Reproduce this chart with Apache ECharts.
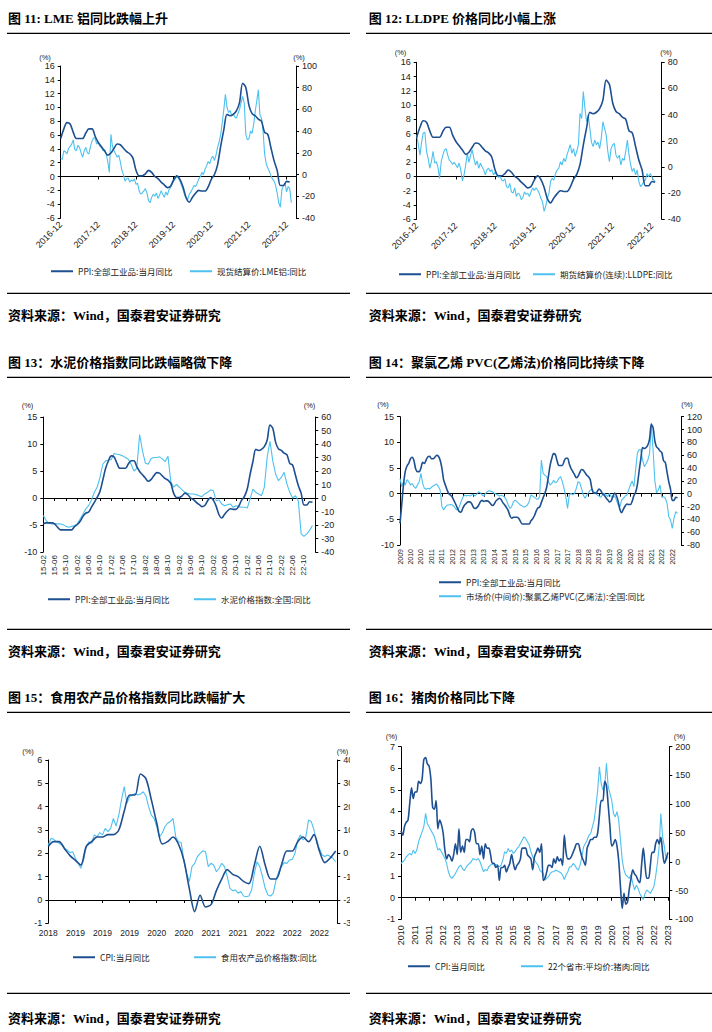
<!DOCTYPE html>
<html><head><meta charset="utf-8">
<script src="https://cdn.jsdelivr.net/npm/echarts@6/dist/echarts.min.js"></script>
<style>html,body{margin:0;padding:0;background:#fff}#c{width:712px;height:1032px}</style>
</head><body><div id="c"></div>
<script>
// ---------- DATA ----------
// PPI 全部工业品 当月同比, monthly 2009-10 .. 2023-01
const ppiMonthly = [-5.8,-2.1,1.7,
4.3,5.4,5.9,6.8,7.1,6.4,4.8,4.3,4.3,5.0,6.1,5.9,
6.6,7.2,7.3,6.8,6.8,7.1,7.5,7.3,6.5,5.0,2.7,1.7,
0.7,0.0,-0.3,-0.7,-1.4,-2.1,-2.9,-3.5,-3.6,-2.8,-2.2,-1.9,
-1.6,-1.6,-1.9,-2.6,-2.9,-2.7,-2.3,-1.6,-1.3,-1.5,-1.4,-1.4,
-1.6,-2.0,-2.3,-2.0,-1.4,-1.1,-0.9,-1.2,-1.8,-2.2,-2.7,-3.3,
-4.3,-4.8,-4.6,-4.6,-4.6,-4.8,-5.4,-5.9,-5.9,-5.9,-5.9,-5.9,
-5.3,-4.9,-4.3,-3.4,-2.8,-2.6,-1.7,-0.8,0.1,1.2,3.3,5.5,
6.9,7.8,7.6,6.4,5.5,5.5,5.5,6.3,6.9,6.9,5.8,4.9,
4.3,3.7,3.1,3.4,4.1,4.7,4.6,4.1,3.6,3.3,2.7,0.9,
0.1,0.1,0.4,0.9,0.6,0.0,-0.3,-0.8,-1.2,-1.6,-1.4,-0.5,
0.1,-0.4,-1.5,-3.1,-3.7,-3.0,-2.4,-2.0,-2.1,-2.1,-1.5,-0.4,
0.3,1.7,4.4,6.8,9.0,8.8,9.0,9.5,10.7,13.5,12.9,10.3,
9.1,8.8,8.3,8.0,6.4,6.1,4.2,2.3,0.9,-1.3,-1.3,-0.7,
-0.8];
// CPI 当月同比, monthly 2010-05 .. 2023-01
const cpiMonthly = [3.1,2.9,3.3,3.5,3.6,4.4,5.1,4.6,
4.9,4.9,5.4,5.3,5.5,6.4,6.5,6.2,6.1,5.5,4.2,4.1,
4.5,3.2,3.6,3.4,3.0,2.2,1.8,2.0,1.9,1.7,2.0,2.5,
2.0,3.2,2.1,2.4,2.1,2.7,2.7,2.6,3.1,3.2,3.0,2.5,
2.5,2.0,2.4,1.8,2.5,2.3,2.3,2.0,1.6,1.6,1.4,1.5,
0.8,1.4,1.4,1.5,1.2,1.4,1.6,2.0,1.6,1.3,1.5,1.6,
1.8,2.3,2.3,2.3,2.0,1.9,1.8,1.3,1.9,2.1,2.3,2.1,
2.5,0.8,0.9,1.2,1.5,1.5,1.4,1.8,1.6,1.9,1.7,1.8,
1.5,2.9,2.1,1.8,1.8,1.9,2.1,2.3,2.5,2.5,2.2,1.9,
1.7,1.5,2.3,2.5,2.7,2.7,2.8,2.8,3.0,3.8,4.5,4.5,
5.4,5.2,4.3,3.3,2.4,2.5,2.7,2.4,1.7,0.5,-0.5,0.2,
-0.3,-0.2,0.4,0.9,1.3,1.1,1.0,0.8,0.7,1.5,2.3,1.5,
0.9,0.9,1.5,2.1,2.1,2.5,2.7,2.5,2.8,2.1,1.6,1.8,
2.1];
// 现货结算价:LME铝:同比, half-monthly from 2016-12
const lmeAluYoY = [15,14,22,21,19,24,26,28,32,23,
22,27,25,20,16,22,25,20,19,26,
31,34,33,28,30,26,25,22,23,19,
12,2,37,26,22,19,16,18,12,4,
0,-6,-4,-3,-7,-5,-6,-4,-9,-8,
-15,-18,-17,-15,-13,-17,-24,-26,-21,-18,
-20,-17,-22,-19,-15,-18,-21,-16,-19,-14,
-12,-9,-6,-4,-2,-3,-6,-10,-14,-19,
-21,-23,-18,-16,-13,-10,-11,-8,-4,-2,
2,0,5,8,12,10,15,17,13,18,
25,30,37,48,60,74,62,57,59,54,
56,53,52,56,60,66,72,66,37,32,
33,40,38,46,58,68,78,55,52,40,
19,10,6,3,-1,-4,-6,-10,-17,-26,
-30,-14,-10,-8,-16,-11,-13,-26];
// 期货结算价(连续):LLDPE:同比, half-monthly from 2016-12
const lldpeYoY = [24.5,17,9,19,26,26.5,12,6.6,-1,4,
12,3,4,0,-8.7,4,9,13,14,9,
5,4,2,3.5,1.5,-0.5,3,-2.3,-10.7,-6,
1.5,10.4,3.5,9,13,6.6,1.5,4.6,-1,3,
0,-2,-6,-2,-1,-3.5,-2,-6,-4,-6.6,
-8,-6.6,-10,-10.7,-9,-15,-16,-12.5,-19,-20,
-16,-22.6,-20,-21,-25,-23.5,-19,-21,-20,-22.6,
-19,-16,-18,-16,-17.6,-20,-24,-26.5,-34,-30,
-24,-20,-11,-8.7,-10,-5,-2.3,-1,4,1.5,
6.6,4,9,13,17,10.4,14,8,12,17,
41,37,57.6,45,34.6,40,29.5,19,15.5,20.6,
17,19,14,22,34.6,29.5,24.5,12,4,14,
17,18,9,6.6,9,1.5,6.6,5,12,20.6,
9,1.5,-3.5,-1,-6,-2.3,-11,-15,-13.7,-11,
-10,-5,-7.4,-5,-7.4,-10,-11];
// 水泥价格指数:全国:同比, monthly from 2015-02
const cementYoY = [-13,-16.7,-18.7,-19.2,-19.2,-19.2,-19.2,-19.7,-21,-21.6,
-21,-20.4,-19.2,-15.5,-11.8,-8,-5.7,-1.5,4.2,7.9,
15.2,25,27.5,28,28.5,33,32.4,32,31.2,30,
28.7,25,20,22,47,35,26,25,29,30,
30,30.5,29,27,31,12,8,10,8,6,
4.2,3.4,3,3,2.5,1.7,1,3,4.2,6,
5.4,-2,-1.5,-4.4,-5.7,-5,-4.4,-6.9,-5.7,-6.4,
-6.9,-6.9,-7.4,-0.7,6.6,4.2,3,1.7,7.9,30,
42,27.5,17.7,12.8,15.2,19,10.3,4.2,0,1.7,
-2,-26.5,-28.5,-26.5,-24,-20.4];
// 市场价(中间价):聚氯乙烯PVC(乙烯法):全国:同比, monthly from 2009-10
const pvcYoY = [24,11,18.7,13.5,22,18.7,13.5,16,11,8.3,
13.5,18.7,31.7,16,8.3,6.8,8.3,7.3,10,12,
13.5,15,11,5.7,-20,-25.5,-21,-17.7,-17.7,-17,
-17.7,-20,-24.4,-25.5,-20,-12.5,-5.7,-2,-3.6,-2.6,
-3.6,-2,-1,-3.6,-0.5,3,1.5,-2,-3.6,0.5,
3,4.7,3.6,3,0.5,-0.5,-2,-3.6,-2.6,-3.6,
-5.7,-10,-17.7,-23,-20,-12.5,-10,-12.5,-15,-17.7,
-19,-21,-20,-17.7,-12.5,-2,-3.6,-5.7,-7.8,-8.8,
-4.7,52.5,31.7,29,26.5,18.7,13.5,16,21,17,
18.7,24,26.5,18.7,8.3,-4.7,-23,-2,0.5,-2,
0.5,8.3,18.7,17,8.3,-2,-7.3,-2,1.5,5.7,
6.8,3,0.5,-2,-3.6,-5.7,-2,0.5,-2,-4.7,
0.5,-4.7,-5.7,-3.6,-10,-17.7,-20,-10,-7.3,-3.6,
-2,5.7,13.5,20,11,37,63,69,68,52.5,
42,47,52.5,63,110,68,21,1.5,5.7,13.5,
-5.7,-4.7,-7.3,-15,-36,-41,-54,-38,-28,-30.6];
// 食用农产品价格指数:同比, half-monthly from 2018-08
const foodYoY = [3.6,6.4,6,5,4.3,3.6,2.1,1.4,0.3,0.7,
-2.1,-4.3,-6.4,-2.9,2.9,5,4.3,7.9,7.1,8.9,
7.9,10.7,9.3,10.7,15,11.7,16.4,22.9,28.6,21.4,
24.3,25,25.7,25,25.4,26.4,24.6,20,16.4,15,
11.4,7.1,8.6,11.4,12.9,13.6,15,7.1,5,4.6,
-2.9,-8.6,-12.1,-5.7,-4.3,-1.4,0,1.1,0.7,-5.7,
-4.3,-5,-7.9,-6.4,-4.3,-5.7,-10,-15,-16,-15.7,
-17.1,-16.4,-18.3,-18.6,-18.3,-15.7,-8.6,-3.6,-5.7,-10,
-15,-17.9,-18.3,-17.1,-11.4,-7.9,-5.7,-4,-4.3,-2.9,
-2.6,0,5.7,7.9,5.7,7.1,14.3,13.6,10,4.3,
2.1,-0.7,-1.4,-0.7,-1.4,-2.1,-3.6];
// 22个省市:平均价:猪肉:同比, monthly from 2010-05
const porkYoY = [-3,0,3,8.7,11.6,14.5,11.6,20.3,14.5,20.3,
34.7,43.4,52,60.8,84,66.6,60.8,55,49,43.4,
31.8,20.3,23,17.4,11.6,5.8,-3,-17.4,-26,-29,
-25,-20.3,-14.5,-8.7,-5.8,-11.6,-15.6,-9.8,-5.8,-3,
0,5.8,4,3,5.8,0,-8.7,-17.4,-13.3,-15.6,
-8.7,-5.8,-4,-5.8,-4.6,-5.8,-8.7,-5.8,3,17.4,
14.5,23,17.4,20.3,14.5,17.4,23,26,31.8,37.6,
43.4,40.5,34.7,29,17.4,8.7,3,-1.7,-5.8,-14.5,
-17.4,-20.3,-31.8,-29,-26,-20.3,-17.4,-17.4,-14.5,-15.6,
-17.4,-19,-23,-30.7,-23,-17.4,-8.7,-8.7,-3,-5.8,
-11.6,-14.5,-5.8,8.7,26,31.8,37.6,46,49,60.8,
72.4,95.5,124.5,165,136,124.5,130,171,130,118.7,
107,84,78,87,72.4,37.6,3,-14.5,-23,-26,
-29,-23,-37.6,-49,-40.5,-46.3,-55,-60.8,-65.4,-55,
-49,-52,-55,-49,-43.4,-26,-3,26,84,43.4,
26,3,8.7];

// tick labels
const p1Ticks = ['2016-12','2017-12','2018-12','2019-12','2020-12','2021-12','2022-12'];
const p3Ticks = ['15-02','15-06','15-10','16-02','16-06','16-10','17-02','17-06','17-10','18-02','18-06','18-10','19-02','19-06','19-10','20-02','20-06','20-10','21-02','21-06','21-10','22-02','22-06','22-10'];
const p4Ticks = ['2009','2010','2010','2011','2011','2012','2012','2013','2013','2014','2014','2015','2015','2016','2016','2017','2017','2018','2018','2019','2019','2020','2020','2021','2021','2022','2022'];
const p5Ticks = ['2018','2019','2019','2019','2020','2020','2021','2021','2022','2022','2022'];
const p6Ticks = ['2010','2011','2011','2012','2013','2013','2014','2015','2015','2016','2017','2017','2018','2019','2019','2020','2021','2021','2022','2023'];

// names / texts
const NAME_PPI = 'PPI:全部工业品:当月同比';
const NAME_CPI = 'CPI:当月同比';
const titles = ['图 11: LME 铝同比跌幅上升','图 12: LLDPE 价格同比小幅上涨','图 13：水泥价格指数同比跌幅略微下降','图 14：聚氯乙烯 PVC(乙烯法)价格同比持续下降','图 15：食用农产品价格指数同比跌幅扩大','图 16：猪肉价格同比下降'];
const SOURCE = '资料来源：Wind，国泰君安证券研究';

// ---------- BUILD ----------
const DARK = '#1d4f91', LIGHT = '#4dc1ef';
const NUMFONT = 'Liberation Sans, Arial, sans-serif';
const CJKFONT = 'Noto Sans CJK SC, sans-serif';
function pairs(arr, x0, step){ return arr.map((v,i)=>[x0+i*step, v]); }

const panels = [
 {grid:{left:60.7,top:66,width:235.3,height:152}, x:{min:0,max:75,interval:12,labels:p1Ticks,rotate:45,fontSize:9,margin:5},
  yl:[-6,16,2], yr:[-40,100,20], dark:{name:NAME_PPI,data:pairs(ppiMonthly.slice(86),0,1)}, light:{name:'现货结算价:LME铝:同比',data:pairs(lmeAluYoY,0,0.5)},
  pct:[[45,57],[299,57]], leg:[[51,273],[190,273]]},
 {grid:{left:416.7,top:62.3,width:245,height:157}, x:{min:0,max:75,interval:12,labels:p1Ticks,rotate:45,fontSize:9,margin:5},
  yl:[-6,16,2], yr:[-40,80,20], dark:{name:NAME_PPI,data:pairs(ppiMonthly.slice(86),0,1)}, light:{name:'期货结算价(连续):LLDPE:同比',data:pairs(lldpeYoY,0,0.5)},
  pct:[[400.5,52],[666,52]], leg:[[399,276],[533,276]]},
 {grid:{left:43.3,top:417,width:272,height:135}, x:{min:0,max:96,interval:4,labels:p3Ticks,rotate:90,fontSize:8,margin:3},
  yl:[-10,15,5], yr:[-40,60,10], dark:{name:NAME_PPI,data:pairs(ppiMonthly.slice(64),0,1)}, light:{name:'水泥价格指数:全国:同比',data:pairs(cementYoY,0,1)},
  pct:[[27.5,405],[309.5,405]], leg:[[48,601],[194,601]]},
 {grid:{left:400,top:416.7,width:281,height:128.3}, x:{min:0,max:161,interval:6,labels:p4Ticks,rotate:90,fontSize:7,margin:4},
  yl:[-10,15,5], yr:[-80,120,20], dark:{name:NAME_PPI,data:pairs(ppiMonthly,0,1)}, light:{name:'市场价(中间价):聚氯乙烯PVC(乙烯法):全国:同比',data:pairs(pvcYoY,0,1)},
  pct:[[383,404.5],[687,404.5]], leg:[[439,584],[439,598]]},
 {grid:{left:48.3,top:760,width:289,height:163.3}, x:{min:0,max:53.3,interval:5,labels:p5Ticks,rotate:0,fontSize:8.5,margin:5},
  yl:[-1,6,1], yr:[-30,40,10], dark:{name:NAME_CPI,data:pairs(cpiMonthly.slice(99),0,1)}, light:{name:'食用农产品价格指数:同比',data:pairs(foodYoY,0,0.5)},
  pct:[[28,751],[342.5,751]], leg:[[73,959],[194,959]]},
 {grid:{left:401,top:746.7,width:268.3,height:172.6}, x:{min:0,max:152.8,interval:8,labels:p6Ticks,rotate:90,fontSize:9,margin:6},
  yl:[-1,7,1], yr:[-100,200,50], dark:{name:NAME_CPI,data:pairs(cpiMonthly,0,1)}, light:{name:'22个省市:平均价:猪肉:同比',data:pairs(porkYoY,0,1)},
  pct:[[391.5,736],[679.5,736]], leg:[[408,968],[521,968]]}
];

const option = {animation:false, grid:[], xAxis:[], yAxis:[], series:[], legend:[], graphic:[]};
const axisLineStyle = {color:'#000', width:1};
panels.forEach((p,i)=>{
  option.grid.push(Object.assign({containLabel:false}, p.grid));
  const yl = option.yAxis.length;
  [['left',p.yl],['right',p.yr]].forEach(([pos,r])=>{
    option.yAxis.push({gridIndex:i, type:'value', position:pos, min:r[0], max:r[1], interval:r[2],
      axisLine:{show:true,onZero:false,lineStyle:axisLineStyle},
      axisTick:{show:true,length:3,lineStyle:axisLineStyle},
      splitLine:{show:false},
      axisLabel:{fontSize:9,color:'#222',margin:6,fontFamily:NUMFONT}});
  });
  const xa = option.xAxis.length;
  const X = p.x;
  option.xAxis.push({gridIndex:i, type:'value', min:X.min, max:X.max, interval:X.interval,
    axisLine:{show:true,onZero:true,onZeroAxisIndex:yl,lineStyle:axisLineStyle},
    axisTick:{show:true,length:3,lineStyle:axisLineStyle},
    axisLabel:{show:false}, splitLine:{show:false}});
  option.xAxis.push({gridIndex:i, type:'value', position:'bottom', min:X.min, max:X.max, interval:X.interval,
    axisLine:{show:false,onZero:false}, axisTick:{show:false}, splitLine:{show:false},
    axisLabel:{show:true, rotate:X.rotate, fontSize:X.fontSize, margin:X.margin, color:'#222', fontFamily:NUMFONT,
      formatter:(v)=>{const k=Math.round((v-X.min)/X.interval); return (Math.abs((v-X.min)/X.interval-k)<1e-6 && k<X.labels.length)? X.labels[k] : '';}}});
  option.series.push({type:'line', name:p.light.name, xAxisIndex:xa+1, yAxisIndex:yl+1, data:p.light.data,
    symbol:'none', lineStyle:{color:LIGHT,width:1.1}, itemStyle:{color:LIGHT}, z:2, silent:true});
  option.series.push({type:'line', name:p.dark.name, xAxisIndex:xa+1, yAxisIndex:yl, data:p.dark.data,
    symbol:'none', smooth:0.3, lineStyle:{color:DARK,width:1.6}, itemStyle:{color:DARK}, z:3, silent:true});
  [p.dark.name, p.light.name].forEach((nm,j)=>{
    option.legend.push({data:[nm], left:p.leg[j][0], top:p.leg[j][1]-6, icon:'rect', itemWidth:22, itemHeight:2,
      padding:0, itemGap:0, selectedMode:false,
      textStyle:{fontSize:8.5,color:'#222',fontFamily:CJKFONT}});
  });
  p.pct.forEach(([cx,cy])=>{
    option.graphic.push({type:'text', z:50, style:{text:'(%)', x:cx, y:cy, align:'center', verticalAlign:'middle', fontSize:7.5, fill:'#222', fontFamily:NUMFONT}});
  });
});

// mask that clips panel 15's right-axis labels like the reference
option.graphic.push({type:'rect', z:100, shape:{x:350, y:740, width:10, height:200}, style:{fill:'#fff'}});

// titles, rules, source lines
const rows = [{t:18, r1:33.3, r2:293.3, s:315},{t:362.7, r1:377.3, r2:629.3, s:651.7},{t:697, r1:712.3, r2:993.3, s:1018}];
rows.forEach((r,ri)=>{
  [[8,7,350],[368.7,366,712]].forEach(([tx,lx1,lx2],ci)=>{
    option.graphic.push({type:'text', z:50, style:{text:titles[ri*2+ci], x:tx, y:r.t, verticalAlign:'middle', fontSize:13, fontWeight:'bold', fill:'#000', fontFamily:'Liberation Serif, Noto Sans CJK SC, serif'}});
    option.graphic.push({type:'line', z:50, shape:{x1:lx1,y1:r.r1,x2:lx2,y2:r.r1}, style:{stroke:'#000',lineWidth:1.2}});
    option.graphic.push({type:'line', z:50, shape:{x1:lx1,y1:r.r2,x2:lx2,y2:r.r2}, style:{stroke:'#000',lineWidth:1.2}});
    option.graphic.push({type:'text', z:50, style:{text:SOURCE, x:tx, y:r.s, verticalAlign:'middle', fontSize:13, fontWeight:'bold', fill:'#000', fontFamily:'Liberation Serif, Noto Sans CJK SC, serif'}});
  });
});

const chart = echarts.init(document.getElementById('c'), null, {renderer:'svg'});
chart.setOption(option);
</script></body></html>
